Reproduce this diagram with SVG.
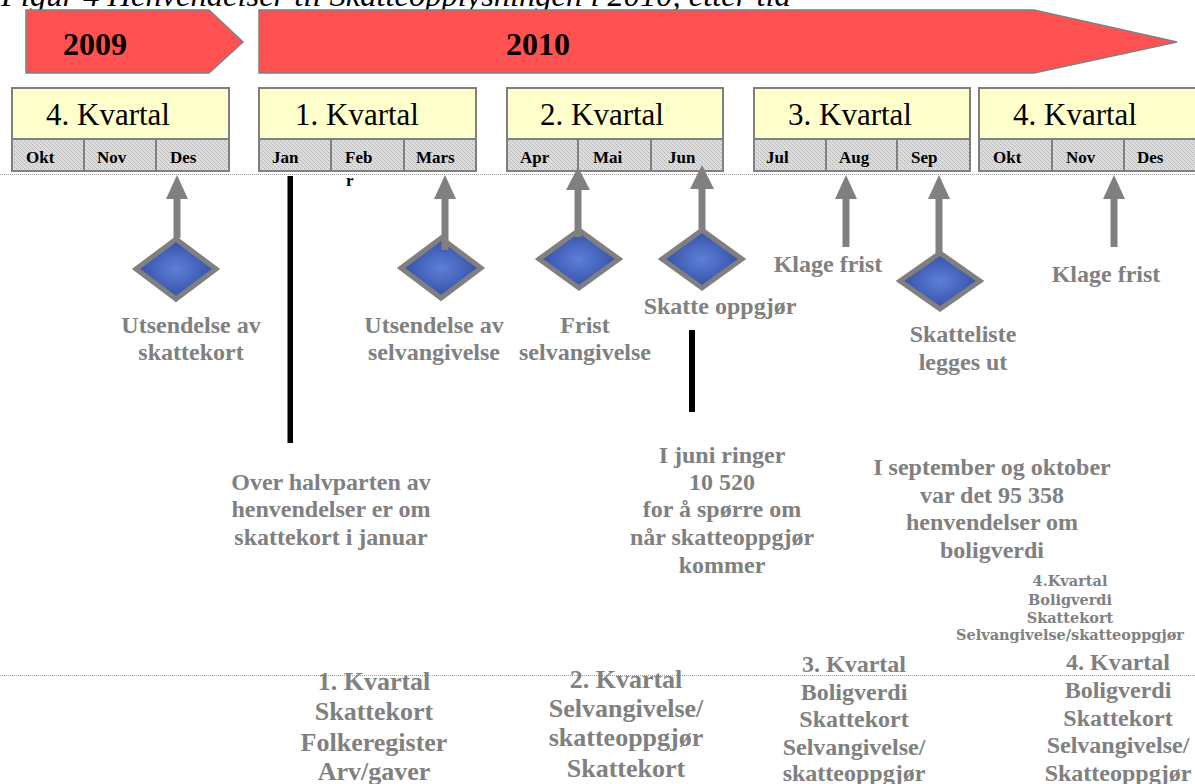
<svg xmlns="http://www.w3.org/2000/svg" width="1195" height="784" viewBox="0 0 1195 784">
<defs>
<pattern id="hatch" width="4" height="4" patternUnits="userSpaceOnUse">
<rect width="4" height="4" fill="#dcdcdc"/>
<rect x="0" y="0" width="1" height="1" fill="#b4b4b4"/>
<rect x="2" y="2" width="1" height="1" fill="#b4b4b4"/>
<rect x="1" y="1" width="1" height="1" fill="#c8c8c8"/>
<rect x="3" y="3" width="1" height="1" fill="#c8c8c8"/>
</pattern>
<radialGradient id="blue" cx="50%" cy="50%" r="55%">
<stop offset="0" stop-color="#5e7fd8"/>
<stop offset="1" stop-color="#2f4a9f"/>
</radialGradient>
</defs>
<style>
.title{font-family:"Liberation Serif",serif;font-style:italic;font-size:32.5px;fill:#000}
.year{font-family:"Liberation Serif",serif;font-weight:bold;font-size:32px;fill:#000}
.bar{fill:#ff5151;stroke:#808080;stroke-width:1.5}
.qh{fill:#ffffcc;stroke:#808080;stroke-width:2}
.qm{fill:url(#hatch);stroke:#808080;stroke-width:2}
.qt{font-family:"Liberation Serif",serif;font-size:31px;fill:#000}
.mt{font-family:"Liberation Serif",serif;font-weight:bold;font-size:17px;fill:#000}
.dot{stroke:#9a9a9a;stroke-width:1;stroke-dasharray:1 1;fill:none}
.arr{fill:#808080}
.dia{fill:url(#blue);stroke:#808080;stroke-width:5}
.lbl{font-family:"Liberation Serif",serif;font-weight:bold;font-size:24px;fill:#808080;text-anchor:middle}
.big{font-family:"Liberation Serif",serif;font-weight:bold;font-size:26px;fill:#808080;text-anchor:middle}
.sm{font-family:"DejaVu Serif",serif;font-weight:bold;font-size:14.5px;fill:#808080;text-anchor:middle}
.blk{fill:#000}
</style>

<text class="title" x="1" y="6">Figur 4 Henvendelser til Skatteopplysningen i 2010, etter tid</text>

<g id="year2009">
<polygon class="bar" points="26,10 209,10 243,42 209,73 26,73"/>
<text class="year" x="63" y="55">2009</text>
</g>
<g id="year2010">
<polygon class="bar" points="259,10 1034,10 1177,42 1034,73 259,73"/>
<text class="year" x="506" y="55">2010</text>
</g>

<g id="q4-2009">
<rect class="qh" x="12" y="88" width="217" height="51"/>
<rect class="qm" x="12" y="139" width="217" height="32"/>
<line x1="84" y1="139" x2="84" y2="171" stroke="#808080" stroke-width="2"/>
<line x1="156" y1="139" x2="156" y2="171" stroke="#808080" stroke-width="2"/>
<text class="qt" x="46" y="125">4. Kvartal</text>
<text class="mt" x="26" y="163">Okt</text>
<text class="mt" x="97" y="163">Nov</text>
<text class="mt" x="170" y="163">Des</text>
</g>
<g id="q1-2010">
<rect class="qh" x="259" y="88" width="217" height="51"/>
<rect class="qm" x="259" y="139" width="217" height="32"/>
<line x1="331" y1="139" x2="331" y2="171" stroke="#808080" stroke-width="2"/>
<line x1="404" y1="139" x2="404" y2="171" stroke="#808080" stroke-width="2"/>
<text class="qt" x="295" y="125">1. Kvartal</text>
<text class="mt" x="272" y="163">Jan</text>
<text class="mt" x="345" y="163">Feb</text>
<text class="mt" x="346" y="186">r</text>
<text class="mt" x="416" y="163">Mars</text>
</g>
<g id="q2-2010">
<rect class="qh" x="507" y="88" width="216" height="51"/>
<rect class="qm" x="507" y="139" width="216" height="32"/>
<line x1="578" y1="139" x2="578" y2="171" stroke="#808080" stroke-width="2"/>
<line x1="651" y1="139" x2="651" y2="171" stroke="#808080" stroke-width="2"/>
<text class="qt" x="540" y="125">2. Kvartal</text>
<text class="mt" x="520" y="163">Apr</text>
<text class="mt" x="593" y="163">Mai</text>
<text class="mt" x="668" y="163">Jun</text>
</g>
<g id="q3-2010">
<rect class="qh" x="754" y="88" width="216" height="51"/>
<rect class="qm" x="754" y="139" width="216" height="32"/>
<line x1="826" y1="139" x2="826" y2="171" stroke="#808080" stroke-width="2"/>
<line x1="897" y1="139" x2="897" y2="171" stroke="#808080" stroke-width="2"/>
<text class="qt" x="788" y="125">3. Kvartal</text>
<text class="mt" x="766" y="163">Jul</text>
<text class="mt" x="839" y="163">Aug</text>
<text class="mt" x="911" y="163">Sep</text>
</g>
<g id="q4-2010">
<rect class="qh" x="979" y="88" width="218" height="51"/>
<rect class="qm" x="979" y="139" width="218" height="32"/>
<line x1="1052" y1="139" x2="1052" y2="171" stroke="#808080" stroke-width="2"/>
<line x1="1124" y1="139" x2="1124" y2="171" stroke="#808080" stroke-width="2"/>
<text class="qt" x="1013" y="125">4. Kvartal</text>
<text class="mt" x="993" y="163">Okt</text>
<text class="mt" x="1066" y="163">Nov</text>
<text class="mt" x="1137" y="163">Des</text>
</g>

<line class="dot" x1="0" y1="174.5" x2="1195" y2="174.5"/>
<line class="dot" x1="0" y1="675.5" x2="1195" y2="675.5"/>

<g id="diamonds">
<path class="dia" d="M176,239 L216,269 L176,299 L136,269 Z"/>
<path class="dia" d="M441,238 L481,268 L441,298 L401,268 Z"/>
<path class="dia" d="M579,230 L619,259 L579,288 L539,259 Z"/>
<path class="dia" d="M702,230 L742,259 L702,288 L662,259 Z"/>
<path class="dia" d="M940,253 L980,281 L940,309 L900,281 Z"/>
</g>

<g id="connectors">
<path class="arr" d="M177,175 L188,199 L180.5,199 L180.5,238 L173.5,238 L173.5,199 L166,199 Z"/>
<path class="arr" d="M445,175 L456,199 L448.5,199 L448.5,250 L441.5,250 L441.5,199 L434,199 Z"/>
<path class="arr" d="M578,167 L590,190 L581.5,190 L581.5,237 L574.5,237 L574.5,190 L566,190 Z"/>
<path class="arr" d="M702,165 L714,189 L705.5,189 L705.5,230 L698.5,230 L698.5,189 L690,189 Z"/>
<path class="arr" d="M846,175 L857,199 L849.5,199 L849.5,247 L842.5,247 L842.5,199 L835,199 Z"/>
<path class="arr" d="M939,175 L950,199 L942.5,199 L942.5,253 L935.5,253 L935.5,199 L928,199 Z"/>
<path class="arr" d="M1114,175 L1125,199 L1117.5,199 L1117.5,247 L1110.5,247 L1110.5,199 L1103,199 Z"/>
<rect class="blk" x="287.5" y="176" width="5.5" height="267"/>
<rect class="blk" x="689" y="330" width="6" height="82"/>
</g>

<g id="event-labels">
<text class="lbl" x="191" y="333">Utsendelse av</text>
<text class="lbl" x="191" y="360">skattekort</text>
<text class="lbl" x="434" y="333">Utsendelse av</text>
<text class="lbl" x="434" y="360">selvangivelse</text>
<text class="lbl" x="585" y="333">Frist</text>
<text class="lbl" x="585" y="360">selvangivelse</text>
<text class="lbl" x="720" y="314">Skatte oppgjør</text>
<text class="lbl" x="828" y="272">Klage frist</text>
<text class="lbl" x="963" y="342">Skatteliste</text>
<text class="lbl" x="963" y="370">legges ut</text>
<text class="lbl" x="1106" y="282">Klage frist</text>
</g>

<g id="notes">
<text class="lbl" x="331" y="490">Over halvparten av</text>
<text class="lbl" x="331" y="517">henvendelser er om</text>
<text class="lbl" x="331" y="545">skattekort i januar</text>
<text class="lbl" x="722" y="463">I juni ringer</text>
<text class="lbl" x="722" y="490">10 520</text>
<text class="lbl" x="722" y="517">for å spørre om</text>
<text class="lbl" x="722" y="545">når skatteoppgjør</text>
<text class="lbl" x="722" y="573">kommer</text>
<text class="lbl" x="992" y="475">I september og oktober</text>
<text class="lbl" x="992" y="503">var det 95 358</text>
<text class="lbl" x="992" y="530">henvendelser om</text>
<text class="lbl" x="992" y="558">boligverdi</text>
<text class="sm" x="1070" y="586">4.Kvartal</text>
<text class="sm" x="1070" y="605">Boligverdi</text>
<text class="sm" x="1070" y="623">Skattekort</text>
<text class="sm" x="1070" y="640">Selvangivelse/skatteoppgjør</text>
</g>

<g id="quarter-lists">
<text class="big" x="374" y="690">1. Kvartal</text>
<text class="big" x="374" y="720">Skattekort</text>
<text class="big" x="374" y="751">Folkeregister</text>
<text class="big" x="374" y="780">Arv/gaver</text>
<text class="big" x="626" y="688">2. Kvartal</text>
<text class="big" x="626" y="717">Selvangivelse/</text>
<text class="big" x="626" y="746">skatteoppgjør</text>
<text class="big" x="626" y="777">Skattekort</text>
<text class="lbl" x="854" y="672">3. Kvartal</text>
<text class="lbl" x="854" y="700">Boligverdi</text>
<text class="lbl" x="854" y="727">Skattekort</text>
<text class="lbl" x="854" y="755">Selvangivelse/</text>
<text class="lbl" x="854" y="781">skatteoppgjør</text>
<text class="lbl" x="1118" y="670">4. Kvartal</text>
<text class="lbl" x="1118" y="698">Boligverdi</text>
<text class="lbl" x="1118" y="726">Skattekort</text>
<text class="lbl" x="1118" y="753">Selvangivelse/</text>
<text class="lbl" x="1118" y="781">Skatteoppgjør</text>
</g>
</svg>
